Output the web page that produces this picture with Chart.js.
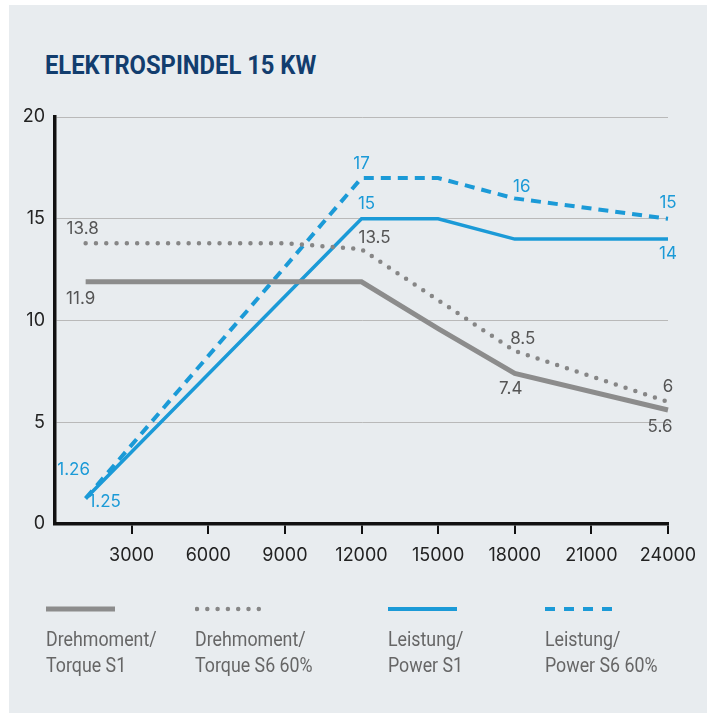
<!DOCTYPE html>
<html lang="de">
<head>
<meta charset="UTF-8">
<title>Elektrospindel 15 KW</title>
<style>
  body { margin: 0; background: #fff; }
  #panel { position: absolute; left: 9px; top: 5px; width: 698px; height: 708px; background: #e8ecef; }
  #title { position: absolute; left: 45px; top: 51px; margin: 0; font: bold 25px Roboto, sans-serif;
           color: #123d6e; transform: scaleX(0.95); transform-origin: left center; white-space: nowrap; }
  #chart { position: absolute; left: 0; top: 0; }
  .leg { position: absolute; top: 604px; }
  .leg svg { display: block; margin-bottom: 12px; }
  .leg span { display: block; font: 20px Roboto, sans-serif; color: #666; line-height: 26px; white-space: nowrap;
              transform: scaleX(0.89); transform-origin: left center; }
</style>
</head>
<body>
<div id="panel"></div>
<h1 id="title">ELEKTROSPINDEL 15 KW</h1>
<canvas id="chart" width="716" height="713"></canvas>

<div class="leg" style="left:46px">
  <svg width="72" height="10"><line x1="0" y1="5" x2="69" y2="5" stroke="#8c8c8c" stroke-width="5"/></svg>
  <span>Drehmoment/<br>Torque S1</span>
</div>
<div class="leg" style="left:195px">
  <svg width="80" height="10"><line x1="2" y1="5" x2="74" y2="5" stroke="#868686" stroke-width="4.5" stroke-linecap="round" stroke-dasharray="0 10.3"/></svg>
  <span>Drehmoment/<br>Torque S6 60%</span>
</div>
<div class="leg" style="left:388px">
  <svg width="72" height="10"><line x1="0" y1="5" x2="69" y2="5" stroke="#1b9ad7" stroke-width="4"/></svg>
  <span>Leistung/<br>Power S1</span>
</div>
<div class="leg" style="left:545px">
  <svg width="72" height="10"><line x1="0" y1="5" x2="68" y2="5" stroke="#1b9ad7" stroke-width="4" stroke-dasharray="10 9"/></svg>
  <span>Leistung/<br>Power S6 60%</span>
</div>

<script src="https://cdn.jsdelivr.net/npm/chart.js"></script>
<script>
// Drehzahl (1/min)
var rpmS1 = [1200, 12000, 15000, 18000, 24000];
var rpmTorqueS6 = [1200, 9000, 12000, 15000, 18000, 24000];

// Drehmoment (Nm) und Leistung (kW)
var torqueS1 = [11.9, 11.9, 9.6, 7.4, 5.6];
var torqueS6 = [13.8, 13.8, 13.5, 11, 8.5, 6];
var powerS1 = [1.25, 15, 15, 14, 14];
var powerS6 = [1.26, 17, 17, 16, 15];

var xTicks = [3000, 6000, 9000, 12000, 15000, 18000, 21000, 24000];
var yTicks = [0, 5, 10, 15, 20];

var grey = '#8c8c8c';
var blue = '#1b9ad7';

function points(xs, ys) {
  return xs.map(function (x, i) { return { x: x, y: ys[i] }; });
}

// Beschriftung der Punkte: Index -> Versatz in Pixel
var valueLabels = {
  id: 'valueLabels',
  afterDatasetsDraw: function (chart) {
    var ctx = chart.ctx;
    ctx.save();
    ctx.font = '17px Inter, "Open Sans", sans-serif';
    ctx.textAlign = 'center';
    ctx.textBaseline = 'middle';
    chart.data.datasets.forEach(function (ds, di) {
      var meta = chart.getDatasetMeta(di);
      ctx.fillStyle = ds.labelColor;
      Object.keys(ds.labelPos).forEach(function (k) {
        var pt = meta.data[k];
        var off = ds.labelPos[k];
        ctx.fillText(String(ds.data[k].y), pt.x + off[0], pt.y + off[1]);
      });
    });
    ctx.restore();
  }
};

var ctx = document.getElementById('chart').getContext('2d');
var chart = new Chart(ctx, {
  type: 'line',
  data: {
    datasets: [
      {
        label: 'Drehmoment/Torque S1',
        data: points(rpmS1, torqueS1),
        borderColor: grey, borderWidth: 5,
        labelColor: '#555',
        labelPos: { 0: [-5, 17], 3: [-4, 15], 4: [-8, 17] }
      },
      {
        label: 'Drehmoment/Torque S6 60%',
        data: points(rpmTorqueS6, torqueS6),
        borderColor: '#868686', borderWidth: 4.5, borderDash: [0, 10.3], borderCapStyle: 'round',
        labelColor: '#555',
        labelPos: { 0: [-3, -14], 2: [13, -11], 4: [8, -12], 5: [0, -15] }
      },
      {
        label: 'Leistung/Power S1',
        data: points(rpmS1, powerS1),
        borderColor: blue, borderWidth: 3.5,
        labelColor: blue,
        labelPos: { 0: [19, 3], 1: [5, -15], 4: [0, 15] }
      },
      {
        label: 'Leistung/Power S6 60%',
        data: points(rpmS1, powerS6),
        borderColor: blue, borderWidth: 4, borderDash: [10, 7],
        labelColor: blue,
        labelPos: { 0: [-12, -28], 1: [0, -14], 3: [7, -12], 4: [0, -16] }
      }
    ]
  },
  options: {
    responsive: false,
    animation: false,
    layout: { padding: { left: 0, right: 48, top: 117, bottom: 139 } },
    elements: { point: { radius: 0 }, line: { tension: 0 } },
    datasets: { line: { clip: false } },
    plugins: { legend: { display: false }, tooltip: { enabled: false } },
    scales: {
      x: {
        type: 'linear', min: 0, max: 24000,
        afterBuildTicks: function (s) { s.ticks = xTicks.map(function (v) { return { value: v }; }); },
        afterFit: function (s) { s.height = 50; },
        border: { display: true, color: '#111', width: 3.5 },
        grid: { drawOnChartArea: false, drawTicks: true, tickLength: 10, color: '#111', lineWidth: 2 },
        ticks: { color: '#222', padding: 11, maxRotation: 0, font: { family: 'Inter, "Open Sans", sans-serif', size: 18 },
                 callback: function (v) { return String(v); } }
      },
      y: {
        min: 0, max: 20,
        afterBuildTicks: function (s) { s.ticks = yTicks.map(function (v) { return { value: v }; }); },
        afterFit: function (s) { s.width = 55; },
        border: { display: true, color: '#111', width: 3.5 },
        grid: { drawTicks: false, color: '#b9b9b9', lineWidth: 1 },
        ticks: { color: '#222', padding: 10, font: { family: 'Inter, "Open Sans", sans-serif', size: 18 },
                 callback: function (v) { return String(v); } }
      }
    }
  },
  plugins: [valueLabels]
});
</script>
</body>
</html>
